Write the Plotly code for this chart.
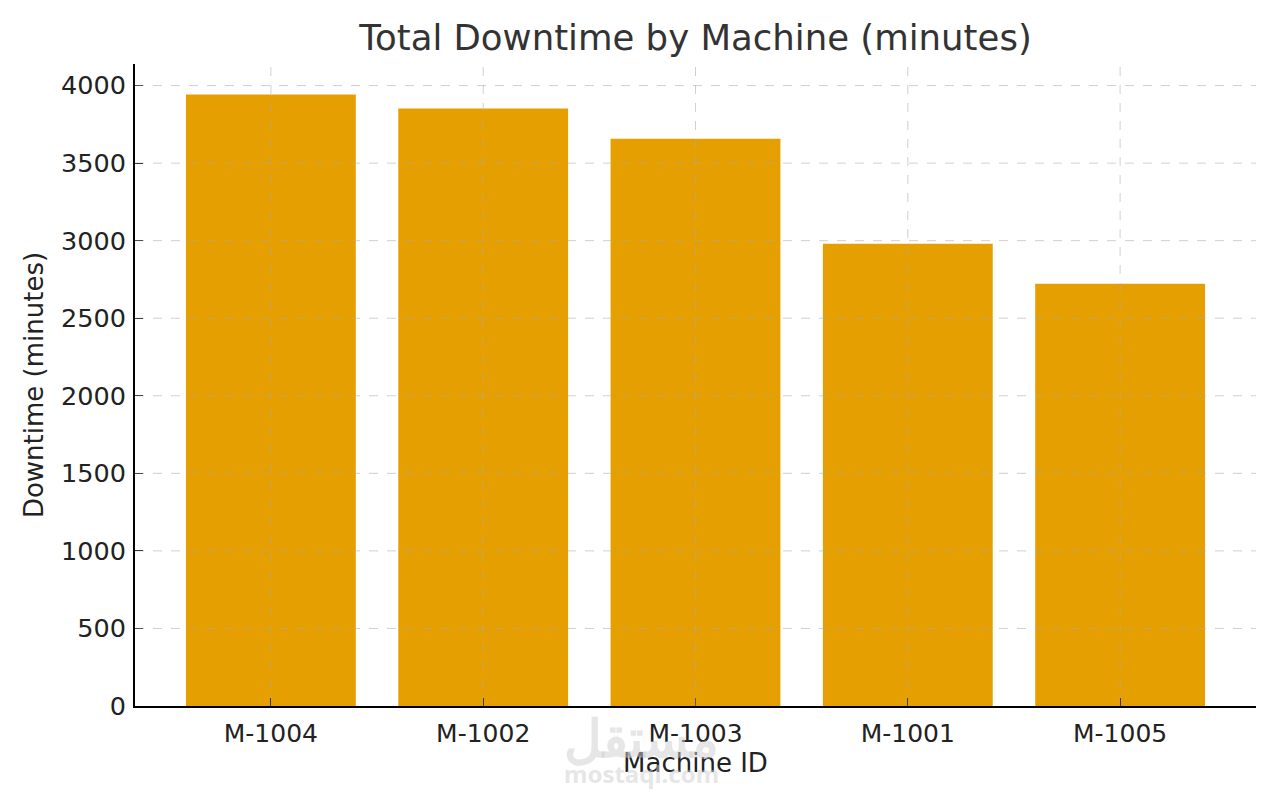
import plotly.graph_objects as go

machines = ["M-1004", "M-1002", "M-1003", "M-1001", "M-1005"]
downtime = [3942, 3852, 3657, 2980, 2722]
y_ticks = [0, 500, 1000, 1500, 2000, 2500, 3000, 3500, 4000]

BAR = "#E69F00"
GRID = "rgba(170,170,170,0.55)"
FONT = "DejaVu Sans"

fig = go.Figure(go.Bar(x=machines, y=downtime, marker=dict(color=BAR, line=dict(width=0)), width=0.8))

shapes = []
for v in y_ticks[1:]:
    shapes.append(dict(type="line", xref="x domain", yref="y", x0=0, x1=1, y0=v, y1=v,
                       line=dict(color=GRID, width=1, dash="dash"), layer="above"))
for m in machines:
    shapes.append(dict(type="line", xref="x", yref="y domain", x0=m, x1=m, y0=0, y1=1,
                       line=dict(color=GRID, width=1, dash="dash"), layer="above"))

fig.update_layout(
    width=1280, height=800,
    margin=dict(l=135, r=24, t=64, b=94),
    paper_bgcolor="white", plot_bgcolor="white",
    font=dict(family=FONT, color="#222222", size=25),
    title=dict(text="Total Downtime by Machine (minutes)", x=0.5434, xanchor="center",
               y=1 - 38 / 800, yanchor="middle", yref="container",
               font=dict(family=FONT, size=35.5, color="#333333")),
    bargap=0.2,
    shapes=shapes,
    showlegend=False,
    annotations=[
        dict(text="<b>مستقل</b>", x=0.452, y=-0.047, xref="paper", yref="paper", showarrow=False,
             xanchor="center", yanchor="middle",
             font=dict(family="Noto Sans", size=52, color="rgba(205,205,205,0.5)")),
        dict(text="<b>mostaql.com</b>", x=0.452, y=-0.105, xref="paper", yref="paper", showarrow=False,
             xanchor="center", yanchor="middle",
             font=dict(family="Noto Sans", size=24, color="rgba(205,205,205,0.5)")),
    ],
)

fig.update_xaxes(
    range=[-0.64, 4.64], showgrid=False, showline=True, linecolor="black", linewidth=2,
    ticks="inside", ticklen=8, tickwidth=1.3, tickcolor="black", ticklabelstandoff=4,
    tickfont=dict(size=25, color="#222222"),
    title=dict(text="Machine ID", standoff=6, font=dict(size=26, color="#222222")),
)
fig.update_yaxes(
    range=[0, 4139], showgrid=False, zeroline=False, showline=True, linecolor="black", linewidth=2,
    ticks="inside", ticklen=8, tickwidth=1.3, tickcolor="black", ticklabelstandoff=2,
    tickvals=y_ticks, ticktext=[str(v) for v in y_ticks],
    tickfont=dict(size=25.5, color="#222222"),
    title=dict(text="Downtime (minutes)", standoff=10, font=dict(size=26, color="#222222")),
)

fig.write_html("out.html")
